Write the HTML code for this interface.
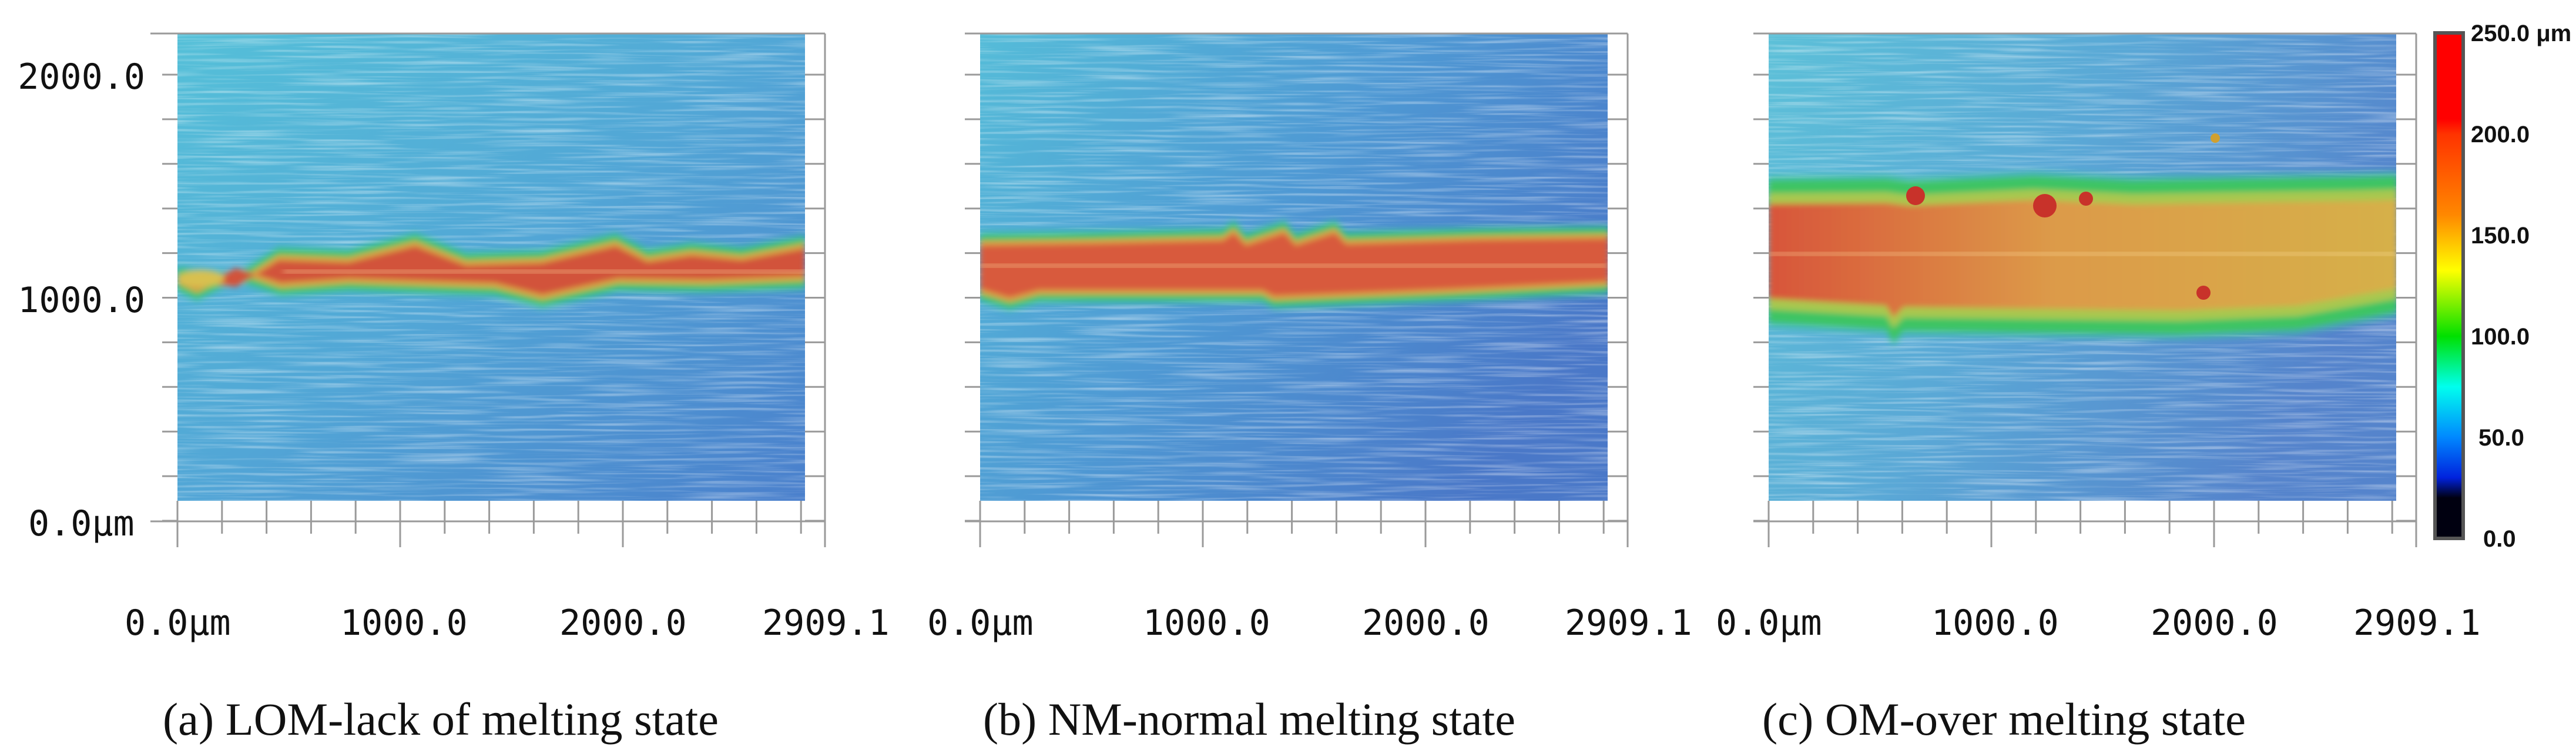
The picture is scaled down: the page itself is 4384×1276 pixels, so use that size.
<!DOCTYPE html>
<html><head><meta charset="utf-8"><style>
html,body{margin:0;padding:0;background:#fff;}
svg{display:block;}
.ax{font-family:"DejaVu Sans Mono","Liberation Mono",monospace;font-size:60px;fill:#111;}
.cap{font-family:"Liberation Serif",serif;font-size:78px;fill:#111;}
.cb{font-family:"Liberation Sans",sans-serif;font-weight:bold;font-size:40px;fill:#111;}
</style></head><body>
<svg id="fig" width="4384" height="1276" viewBox="0 0 4384 1276" xmlns="http://www.w3.org/2000/svg">
<defs>
<linearGradient id="bgA" x1="0" y1="0" x2="1" y2="1"><stop offset="0" stop-color="#55c0d8"/><stop offset="0.5" stop-color="#52a6d6"/><stop offset="1" stop-color="#4a7fcc"/></linearGradient>
<linearGradient id="bgB" x1="0" y1="0" x2="1" y2="0.6"><stop offset="0" stop-color="#55bcd8"/><stop offset="0.5" stop-color="#4f9ad4"/><stop offset="1" stop-color="#4a78c8"/></linearGradient>
<linearGradient id="bgC" x1="0" y1="0" x2="1" y2="0.4"><stop offset="0" stop-color="#5cc0d8"/><stop offset="0.5" stop-color="#5aa8d6"/><stop offset="1" stop-color="#5584cc"/></linearGradient>
<linearGradient id="coreC" x1="0" y1="0" x2="1" y2="0"><stop offset="0" stop-color="#d8553a"/><stop offset="0.45" stop-color="#dc9a48"/><stop offset="1" stop-color="#d6b048"/></linearGradient>
<linearGradient id="cbar" x1="0" y1="0" x2="0" y2="1">
<stop offset="0" stop-color="#ff0000"/><stop offset="0.17" stop-color="#ff0000"/><stop offset="0.2" stop-color="#ff3300"/><stop offset="0.36" stop-color="#ff8800"/><stop offset="0.47" stop-color="#ffff00"/><stop offset="0.6" stop-color="#00e000"/><stop offset="0.7" stop-color="#00ffee"/><stop offset="0.8" stop-color="#0088ff"/><stop offset="0.88" stop-color="#0022dd"/><stop offset="0.92" stop-color="#000010"/><stop offset="1" stop-color="#000010"/></linearGradient>
<filter id="streak" x="0" y="0" width="1" height="1"><feTurbulence type="fractalNoise" baseFrequency="0.006 0.2" numOctaves="2" seed="3"/><feColorMatrix type="matrix" values="0 0 0 0 1  0 0 0 0 1  0 0 0 0 1  0 0 0 1.8 -0.8"/></filter>
<filter id="soft"><feGaussianBlur stdDeviation="5"/></filter>
</defs>
<g id="panels"></g>
<g id="colorbar">
<rect x="4144" y="56" width="48" height="860" fill="url(#cbar)" stroke="#555" stroke-width="6"/>
</g>
</svg>
<script>
const NS="http://www.w3.org/2000/svg";
const panelLefts=[302,1668,3010];
const captions=["(a) LOM-lack of melting state","(b) NM-normal melting state","(c) OM-over melting state"];
const captionX=[277,1673,2999];
const captionW=[946,906,823];
const xTickLabels=["0.0\u03bcm","1000.0","2000.0","2909.1"];
const xTickLabelOffsets=[-90,277,650,995];
const yTickLabels=["2000.0","1000.0","0.0\u03bcm"];
const yTickValues=[2000,1000,0];
const cbLabels=["250.0 \u03bcm","200.0","150.0","100.0","50.0","0.0"];
const cbValues=[250,200,150,100,50,0];
const bandTop=[
 [[0,458],[100,470],[172,425],[291,429],[405,401],[491,434],[620,430],[746,401],[800,428],[875,417],[960,425],[1068,405]],
 [[0,401],[200,398],[413,393],[432,380],[452,401],[518,380],[537,401],[604,380],[623,399],[850,392],[1070,389]],
 [[0,307],[200,305],[240,310],[450,300],[620,308],[800,305],[1000,302],[1070,300]]
];
const bandBot=[
 [[0,491],[33,507],[100,474],[176,499],[291,491],[540,499],[621,519],[750,491],[900,493],[1068,487]],
 [[0,508],[50,523],[100,510],[480,510],[500,520],[800,508],[1070,495]],
 [[0,548],[200,560],[212,580],[230,562],[450,565],[700,568],[900,560],[1070,530]]
];
const bandColors=[["#3cc0a0","#3cc463","#d8a545","#d2533a"],["#3cc0a0","#3cc463","#dca045","#d85a3c"],["#3cc0a0","#3cc463","#a8c850","url(#coreC)"]];
const bandInsets=[[-8,0,9,18],[-8,0,9,17],[-10,0,22,40]];
const imgTop=57,imgBot=852,imgW=1068,axisBot=887,yTick0=127,yStep=75.9,xStep=75.8;
function yPix(v){return 887-(v/2000)*(887-127);}
function cbY(v){return 916-(v/250)*(916-56);}
function mk(tag,attrs,parent){const e=document.createElementNS(NS,tag);for(const k in attrs)e.setAttribute(k,attrs[k]);parent.appendChild(e);return e;}
const root=document.getElementById('panels');
const bgs=["url(#bgA)","url(#bgB)","url(#bgC)"];
panelLefts.forEach((L,i)=>{
 const g=mk('g',{},root);
 
 
 const cp=mk('clipPath',{id:'clip'+i},g);
 mk('rect',{x:L,y:imgTop,width:imgW,height:imgBot-imgTop},cp);
 const img=mk('g',{'clip-path':'url(#clip'+i+')'},g);
 
 
 mk('rect',{x:L,y:imgTop,width:imgW,height:imgBot-imgTop,fill:bgs[i]},img);
 mk('rect',{x:L,y:imgTop,width:imgW,height:imgBot-imgTop,filter:'url(#streak)',opacity:0.5},img);
 const bg=mk('g',{filter:'url(#soft)'},img);
 
 
 for(let k=0;k<4;k++){
  const ins=bandInsets[i][k];
  const pts=bandTop[i].map(p=>(L+p[0])+','+(p[1]+ins)).concat(bandBot[i].slice().reverse().map(p=>(L+p[0])+','+(p[1]-ins)));
  mk('polygon',{points:pts.join(' '),fill:bandColors[i][k],opacity:k==0?0.6:1},bg);
 }
 if(i==0){mk('ellipse',{cx:L+40,cy:474,rx:40,ry:14,fill:'#d8c050'},bg);}
 const cy=i==0?462:(i==1?452:432);
 mk('rect',{x:L+(i==0?180:0),y:cy-3,width:imgW,height:6,fill:'#ffe0a0',opacity:0.55,filter:'url(#soft)'},img);
 if(i==2){
  [[250,333,16],[470,350,20],[540,338,12],[740,498,12]].forEach(b=>{const c=mk('circle',{cx:L+b[0],cy:b[1],r:b[2],fill:'#c8322a'},img);});
  mk('circle',{cx:L+760,cy:235,r:8,fill:'#d0a030'},img);
 }
 const ax=mk('g',{stroke:'#9a9a9a','stroke-width':3,fill:'none'},g);
 
 
 const axL=i==0?L-46:L-26;
 mk('line',{x1:axL,y1:imgTop,x2:L+1102,y2:imgTop},ax);
 mk('line',{x1:axL,y1:axisBot,x2:L+1102,y2:axisBot},ax);
 mk('line',{x1:L+1102,y1:imgTop,x2:L+1102,y2:931},ax);
 for(let k=0;k<=10;k++){const y=yTick0+k*yStep;
  mk('line',{x1:L-26,y1:y,x2:L,y2:y},ax);
  mk('line',{x1:L+imgW,y1:y,x2:L+1102,y2:y},ax);}
 for(let k=0;k<=14;k++){const x=L+k*xStep;
  mk('line',{x1:x,y1:imgBot,x2:x,y2:(k%5==0)?931:908},ax);}
 xTickLabels.forEach((t,j)=>{const e=mk('text',{x:L+xTickLabelOffsets[j],y:1080,class:'ax'},g);e.textContent=t;
  });
 if(i==0){yTickLabels.forEach((t,j)=>{const e=mk('text',{x:j==2?48:247,y:yPix(yTickValues[j])+24,class:'ax','text-anchor':j==2?'start':'end'},g);e.textContent=t;
  });}
 const c=mk('text',{x:captionX[i],y:1250,class:'cap',textLength:captionW[i],lengthAdjust:'spacingAndGlyphs'},g);
 c.textContent=captions[i];
 
 
});
const cbg=document.getElementById('colorbar');
cbLabels.forEach((t,j)=>{const e=mk('text',{x:j==4?4218:(j==5?4226:4205),y:cbY(cbValues[j])+14,class:'cb'},cbg);e.textContent=t;
 });
</script>
</body></html>
